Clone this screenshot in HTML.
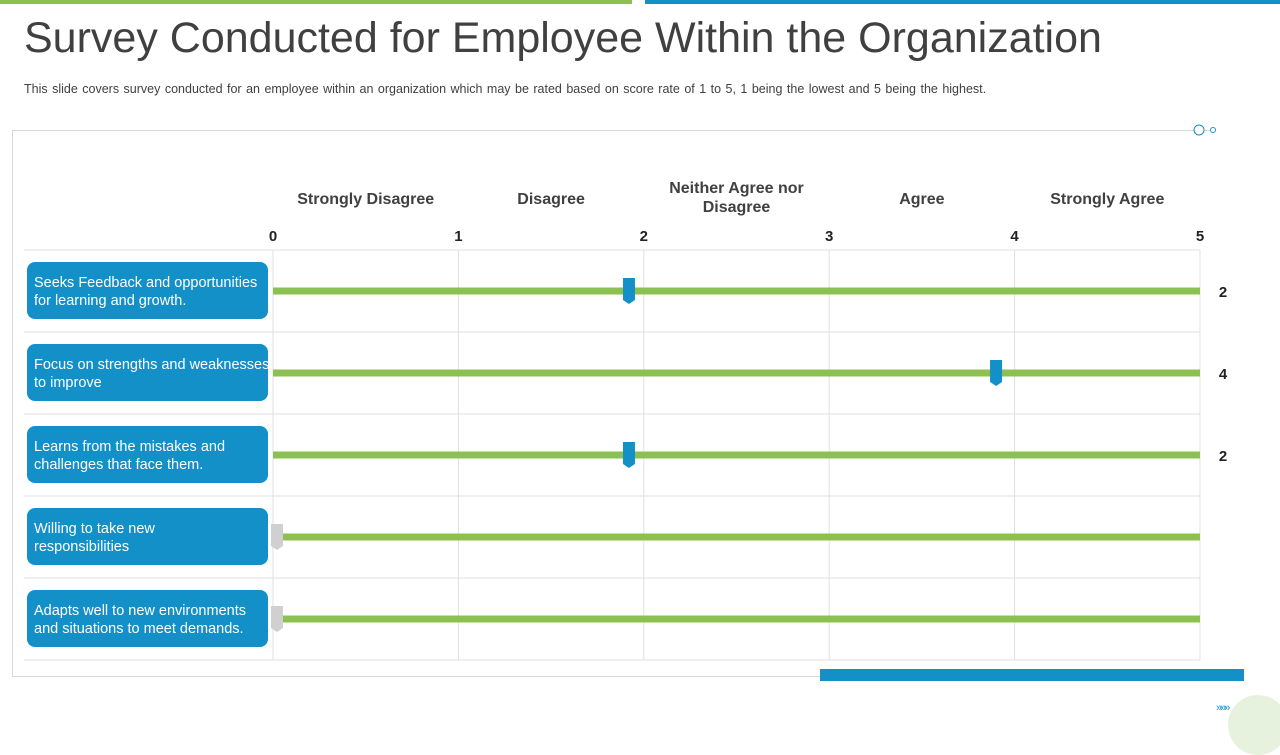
<!DOCTYPE html>
<html><head><meta charset="utf-8"><style>
body{margin:0;width:1280px;height:720px;overflow:hidden;background:#fff;font-family:"Liberation Sans",sans-serif;position:relative}
.a{position:absolute}
</style></head><body>
<div class="a" style="left:0;top:0;width:632px;height:4px;background:#8cc152"></div>
<div class="a" style="left:645px;top:0;width:635px;height:4px;background:#1490c8"></div>
<div class="a" style="left:24px;top:14px;font-size:43px;color:#404040">Survey Conducted for Employee Within the Organization</div>
<div class="a" style="left:24px;top:82px;font-size:12.5px;color:#404040;word-spacing:1px">This slide covers survey conducted for an employee within an organization which may be rated based on score rate of 1 to 5, 1 being the lowest and 5 being the highest.</div>
<div class="a" style="left:12px;top:130px;width:1200px;height:545px;border:1px solid #d9d9d9;border-right:none"></div>
<div class="a" style="left:820px;top:669px;width:424px;height:12px;background:#1490c8"></div>
<div class="a" style="left:1228px;top:695px;width:60px;height:60px;border-radius:50%;background:#e6f2dd"></div>
<div class="a" style="left:1216px;top:702px;font-size:11px;color:#1490c8;letter-spacing:-2px">»»»</div>
<svg class="a" style="left:0;top:0" width="1280" height="720" id="chart">
<circle cx="1199" cy="130" r="5" fill="#fff" stroke="#1490c8"/>
<circle cx="1213" cy="130" r="2.5" fill="#fff" stroke="#1490c8"/>
</svg>
<script>
const categories=["Seeks Feedback and opportunities for learning and growth.","Focus on strengths and weaknesses to improve","Learns from the mistakes and challenges that face them.","Willing to take new responsibilities","Adapts well to new environments and situations to meet demands."];
const scores=[1.92,3.9,1.92,0,0];
const scoreLabels=["2","4","2","",""];
const tickLabels=["0","1","2","3","4","5"];
const scaleLabels=["Strongly Disagree","Disagree","Neither Agree nor|Disagree","Agree","Strongly Agree"];
const svg=document.getElementById('chart');const NS='http://www.w3.org/2000/svg';
const x0=273,x1=1200,xs=v=>x0+(x1-x0)*v/5;
const rowTop=250,rowH=82,ys=i=>rowTop+rowH*i+41;
function mk(t,a){const e=document.createElementNS(NS,t);for(const k in a)e.setAttribute(k,a[k]);svg.appendChild(e);return e;}
let e;
e=mk('line',{x1:24,x2:1200,y1:rowTop,y2:rowTop,stroke:'#e0e0e0'});


tickLabels.forEach((t,i)=>{
 e=mk('line',{x1:xs(i),x2:xs(i),y1:rowTop,y2:rowTop+rowH*5,stroke:'#e0e0e0'});
 
 
 e=mk('text',{x:xs(i),y:241,'text-anchor':'middle','font-size':15,'font-weight':'bold',fill:'#222'});e.textContent=t;
 
 
});
scaleLabels.forEach((s,i)=>{
 const parts=s.split('|');const cx=xs(i+0.5);
 parts.forEach((p,j)=>{e=mk('text',{x:cx,y:parts.length>1?193+j*19:204,'text-anchor':'middle','font-size':16,'font-weight':'bold',fill:'#404040'});e.textContent=p;
 
 });
});
categories.forEach((c,i)=>{
 const y=ys(i);
 e=mk('line',{x1:24,x2:1200,y1:rowTop+rowH*(i+1),y2:rowTop+rowH*(i+1),stroke:'#e0e0e0'});
 
 
 e=mk('rect',{x:27,y:y-29,width:241,height:57,rx:8,fill:'#1490c8'});
 
 
 const words=c.split(' ');let lines=[],cur='';
 words.forEach(w=>{const t=cur?cur+' '+w:w;if(t.length>33){lines.push(cur);cur=w;}else cur=t;});lines.push(cur);
 lines.forEach((l,j)=>{e=mk('text',{x:34,y:y+5+(j-(lines.length-1)/2)*18,'font-size':14.5,fill:'#fff'});e.textContent=l;
 
 });
 e=mk('rect',{x:x0,y:y-3.5,width:x1-x0,height:7,fill:'#8cc152'});
 
 
 const mx=xs(scores[i])+(scores[i]===0?4:0);
 const col=scores[i]===0?'#d0d0d0':'#1490c8';
 e=mk('path',{d:`M${mx-6},${y-13} h12 v22 l-6,4 l-6,-4 z`,fill:col});
 
 
 e=mk('text',{x:1223,y:y+6,'text-anchor':'middle','font-size':15,'font-weight':'bold',fill:'#222'});e.textContent=scoreLabels[i];
 
 
});
</script>
</body></html>
